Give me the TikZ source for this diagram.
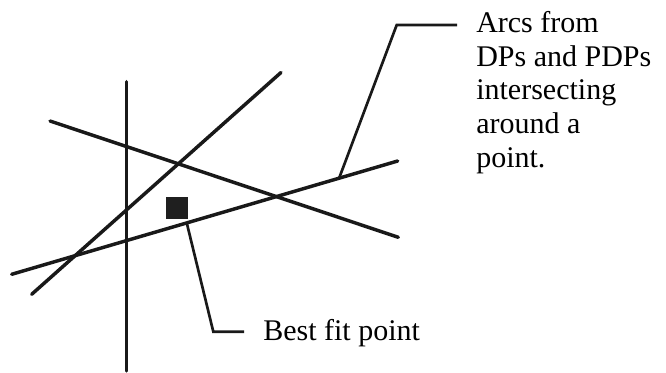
\documentclass[tikz,border=0pt]{standalone}
\usepackage{fontspec}
\setmainfont{Liberation Serif}
\begin{document}
\begin{tikzpicture}[x=0.75pt,y=-0.75pt,
  arcline/.style={line width=2.6pt,line cap=round,black!90},
  leader/.style={line width=2pt,black!90},
  lbl/.style={inner sep=0pt,font=\fontsize{22.5}{25.3}\selectfont,align=left}]
\useasboundingbox (0,0) rectangle (666,373);
% arcs
\draw[arcline] (126.7,81.7) -- (126.7,371);
\draw[arcline] (31.7,294.3) -- (281,72.5);
\draw[arcline] (50,121) -- (398.3,237.3);
\draw[arcline] (11.7,274.3) -- (397.7,161);
% best fit point
\node[fill=black!88,minimum size=16.5pt,inner sep=0pt] (bfp) at (176.7,208) {};
% labels
\node[lbl,anchor=north west] (arcs) at (476,11)
  {Arcs from\\DPs and PDPs\\intersecting\\around a\\point.};
\node[lbl,anchor=base west] (best) at (263,340) {Best fit point};
% leaders
\coordinate (a0) at (339.3,177.7);
\coordinate (a1) at (396.7,25);
\coordinate (a2) at (457,25);
\draw[leader] (a0) -- (a1) -- (a2);
\coordinate (b0) at (186.7,222.7);
\coordinate (b1) at (213.3,331.7);
\coordinate (b2) at (244,331.7);
\draw[leader] (b0) -- (b1) -- (b2);
\end{tikzpicture}
\end{document}
